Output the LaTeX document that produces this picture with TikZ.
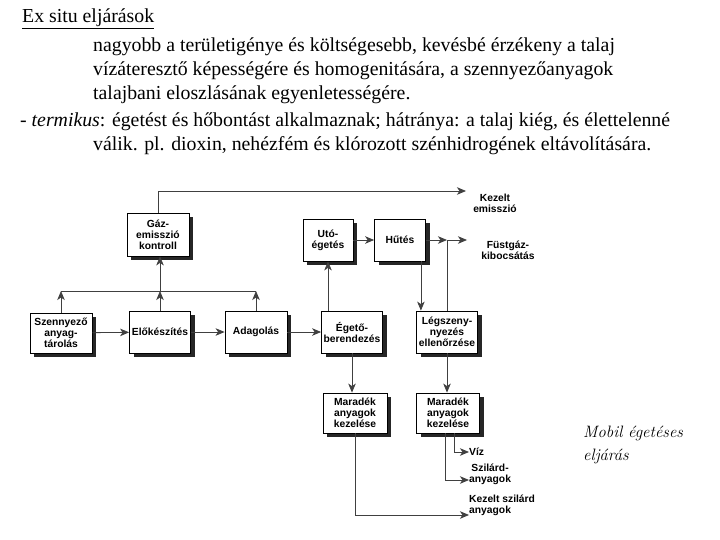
\documentclass[tikz,border=0pt]{standalone}
\usepackage{fontspec}
\setmainfont{Liberation Serif}
\newfontfamily\diagfont{Liberation Sans}
\usepackage{tikz}
\usetikzlibrary{shadows,arrows.meta}
\newcommand{\boxfont}{\diagfont\bfseries\fontsize{10.3}{11}\selectfont}
\newcommand{\headfont}{\fontsize{19.8}{22}\selectfont}

\begin{document}
\begin{tikzpicture}[x=1pt,y=-1pt,>={Stealth[length=9pt,width=7.5pt,inset=2.5pt]},
            box/.style={draw,fill=white,thick,font=\boxfont,align=center,inner sep=0pt,
                        drop shadow={shadow xshift=4pt,shadow yshift=-4pt,fill=black!85,opacity=1}},
            lbl/.style={font=\boxfont,align=center,inner sep=1pt},
            conn/.style={draw=black!75,thick},
            arr/.style={conn,->}]
            \useasboundingbox (0,0) rectangle (720,540);
            % header text
            \node[anchor=base west,inner sep=0pt,font=\headfont] (T1) at (22,23) {\underline{Ex situ eljárások}};
            \node[anchor=base west,inner sep=0pt,font=\headfont] (T2) at (93,52) {nagyobb a területigénye és költségesebb, kevésbé érzékeny a talaj};
            \node[anchor=base west,inner sep=0pt,font=\headfont] (T3) at (93,76) {vízáteresztő képességére és homogenitására, a szennyezőanyagok};
            \node[anchor=base west,inner sep=0pt,font=\headfont] (T4) at (93,100) {talajbani eloszlásának egyenletességére.};
            \node[anchor=base west,inner sep=0pt,font=\headfont] (T5) at (20,127) {- \textit{termikus}: égetést és hőbontást alkalmaznak; hátránya: a talaj kiég, és élettelenné};
            \node[anchor=base west,inner sep=0pt,font=\headfont] (T6) at (93,151) {válik. pl. dioxin, nehézfém és klórozott szénhidrogének eltávolítására.};
            % boxes
            \node[box,minimum width=62pt,minimum height=43pt] (Gaz) at (158,234.5) {Gáz-\\emisszió\\kontroll};
            \node[box,minimum width=50pt,minimum height=42pt] (Uto) at (328,240) {Utó-\\égetés};
            \node[box,minimum width=51pt,minimum height=42pt] (Hut) at (400,240) {Hűtés};
            \node[box,minimum width=62pt,minimum height=40pt] (Szen) at (61,333) {Szennyező\\anyag-\\tárolás};
            \node[box,minimum width=61pt,minimum height=42pt] (Elo) at (160,332) {Előkészítés};
            \node[box,minimum width=62pt,minimum height=42pt] (Adag) at (256,332) {Adagolás};
            \node[box,minimum width=61pt,minimum height=42pt] (Eget) at (352,332) {Égető-\\berendezés};
            \node[box,minimum width=61pt,minimum height=42pt] (Leg) at (447,332) {Légszeny-\\nyezés\\ellenőrzése};
            \node[box,minimum width=64pt,minimum height=40pt] (Mar1) at (355,413) {Maradék\\anyagok\\kezelése};
            \node[box,minimum width=63pt,minimum height=40pt] (Mar2) at (448,413) {Maradék\\anyagok\\kezelése};
            % output labels
            \node[lbl] (Kem) at (495,203) {Kezelt\\emisszió};
            \node[lbl] (Fust) at (508,250) {Füstgáz-\\kibocsátás};
            \node[lbl,anchor=west] (Viz) at (468,452) {Víz};
            \node[lbl,anchor=west] (Szil) at (468,474) {Szilárd-\\anyagok};
            \node[lbl,anchor=west,align=left] (Kszil) at (468,505) {Kezelt szilárd\\anyagok};
            \coordinate (bus) at (160,291);
            \coordinate (kemE) at (466,191);
            \coordinate (fj) at (447,240);
            \coordinate (fE) at (467,240);
            \coordinate (vizE) at (469,452);
            \coordinate (szilE) at (469,480);
            \coordinate (kszilE) at (469,515);
            % connectors
            \draw[arr] (Szen) -- (Elo);
            \draw[arr] (Elo) -- (Adag);
            \draw[arr] (Adag) -- (Eget);
            \draw[arr] (Szen.north) -- (Szen.north |- bus);
            \draw[arr] (Elo.north) -- (Elo.north |- bus);
            \draw[arr] (Adag.north) -- (Adag.north |- bus);
            \draw[conn] (Szen.north |- bus) -- (Adag.north |- bus);
            \draw[arr] (bus) -- (Gaz.south -| bus);
            \draw[arr] (Gaz.north) |- (kemE);
            \draw[arr] (Uto.south |- Eget.north) -- (Uto.south);
            \draw[arr] (Uto) -- (Hut);
            \draw[arr] (Hut.east) -- (fj);
            \draw[arr] (fj) -- (fE);
            \draw[conn] (Leg.north) -- (fj);
            \draw[arr] ([xshift=-5pt]Hut.south east) -- ([xshift=-5pt]Hut.south east |- Leg.north);
            \draw[arr] (Eget.south) -- (Eget.south |- Mar1.north);
            \draw[arr] (Leg.south) -- (Leg.south |- Mar2.north);
            \draw[arr] ([xshift=6pt]Mar2.south) |- (vizE);
            \draw[arr] ([xshift=-3pt]Mar2.south) |- (szilE);
            \draw[arr] (Mar1.south) |- (kszilE);
            % caption
            \node[anchor=base west,align=left,inner sep=0pt,font=\fontfamily{lmr}\fontsize{16.5}{23}\selectfont\itshape] (Cap) at (583,460) {Mobil égetéses\\eljárás};
        \end{tikzpicture}
\end{document}
